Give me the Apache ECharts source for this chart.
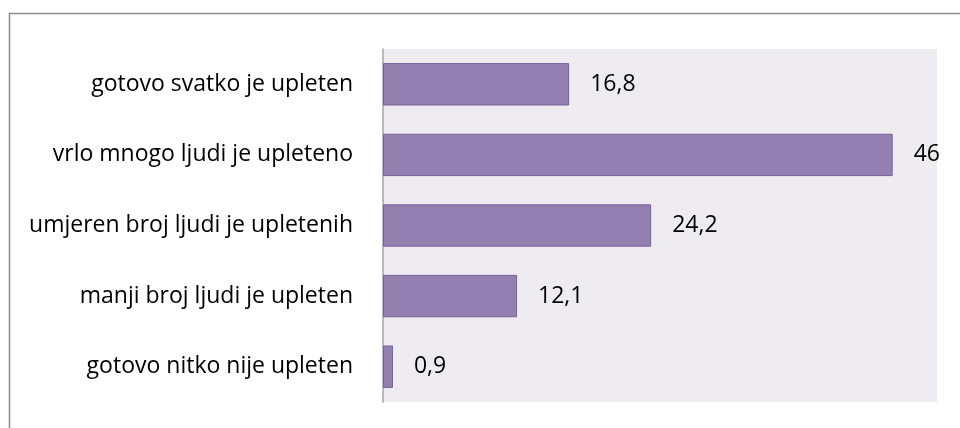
<!DOCTYPE html>
<html><head><meta charset="utf-8">
<script src="https://cdn.jsdelivr.net/npm/echarts@6/dist/echarts.min.js"></script>
<style>html,body{margin:0;padding:0;background:#fff}#c{width:960px;height:428px}</style>
</head><body><div id="c"></div>
<script>
const categories = ["gotovo nitko nije upleten","manji broj ljudi je upleten","umjeren broj ljudi je upletenih","vrlo mnogo ljudi je upleteno","gotovo svatko je upleten"];
const values = [0.9, 12.1, 24.2, 46, 16.8];
const valueLabels = ["0,9","12,1","24,2","46","16,8"];
const chart = echarts.init(document.getElementById('c'));
const font = "Open Sans";
chart.setOption({
  animation:false,
  graphic:[{type:'rect',shape:{x:9.5,y:13.5,width:960,height:430},style:{fill:'none',stroke:'#8c8c8c',lineWidth:1.5},silent:true}],
  grid:{left:383,right:23,top:49,bottom:26,show:true,backgroundColor:'#EEEBF1',borderWidth:0},
  xAxis:{type:'value',min:0,max:50,show:false},
  yAxis:{type:'category',data:categories,
    axisLine:{show:true,lineStyle:{color:'#A6A6A6',width:1.5}},
    axisTick:{show:false},
    axisLabel:{color:'#000',fontFamily:font,fontSize:23,margin:30}},
  series:[{type:'bar',data:values,barCategoryGap:'40%',
    itemStyle:{color:'#947FB1',borderColor:'#76609A',borderWidth:1},
    label:{show:true,position:'right',distance:21,color:'#000',fontFamily:font,fontSize:23,
      formatter:p=>valueLabels[p.dataIndex]}}]
});
</script></body></html>
